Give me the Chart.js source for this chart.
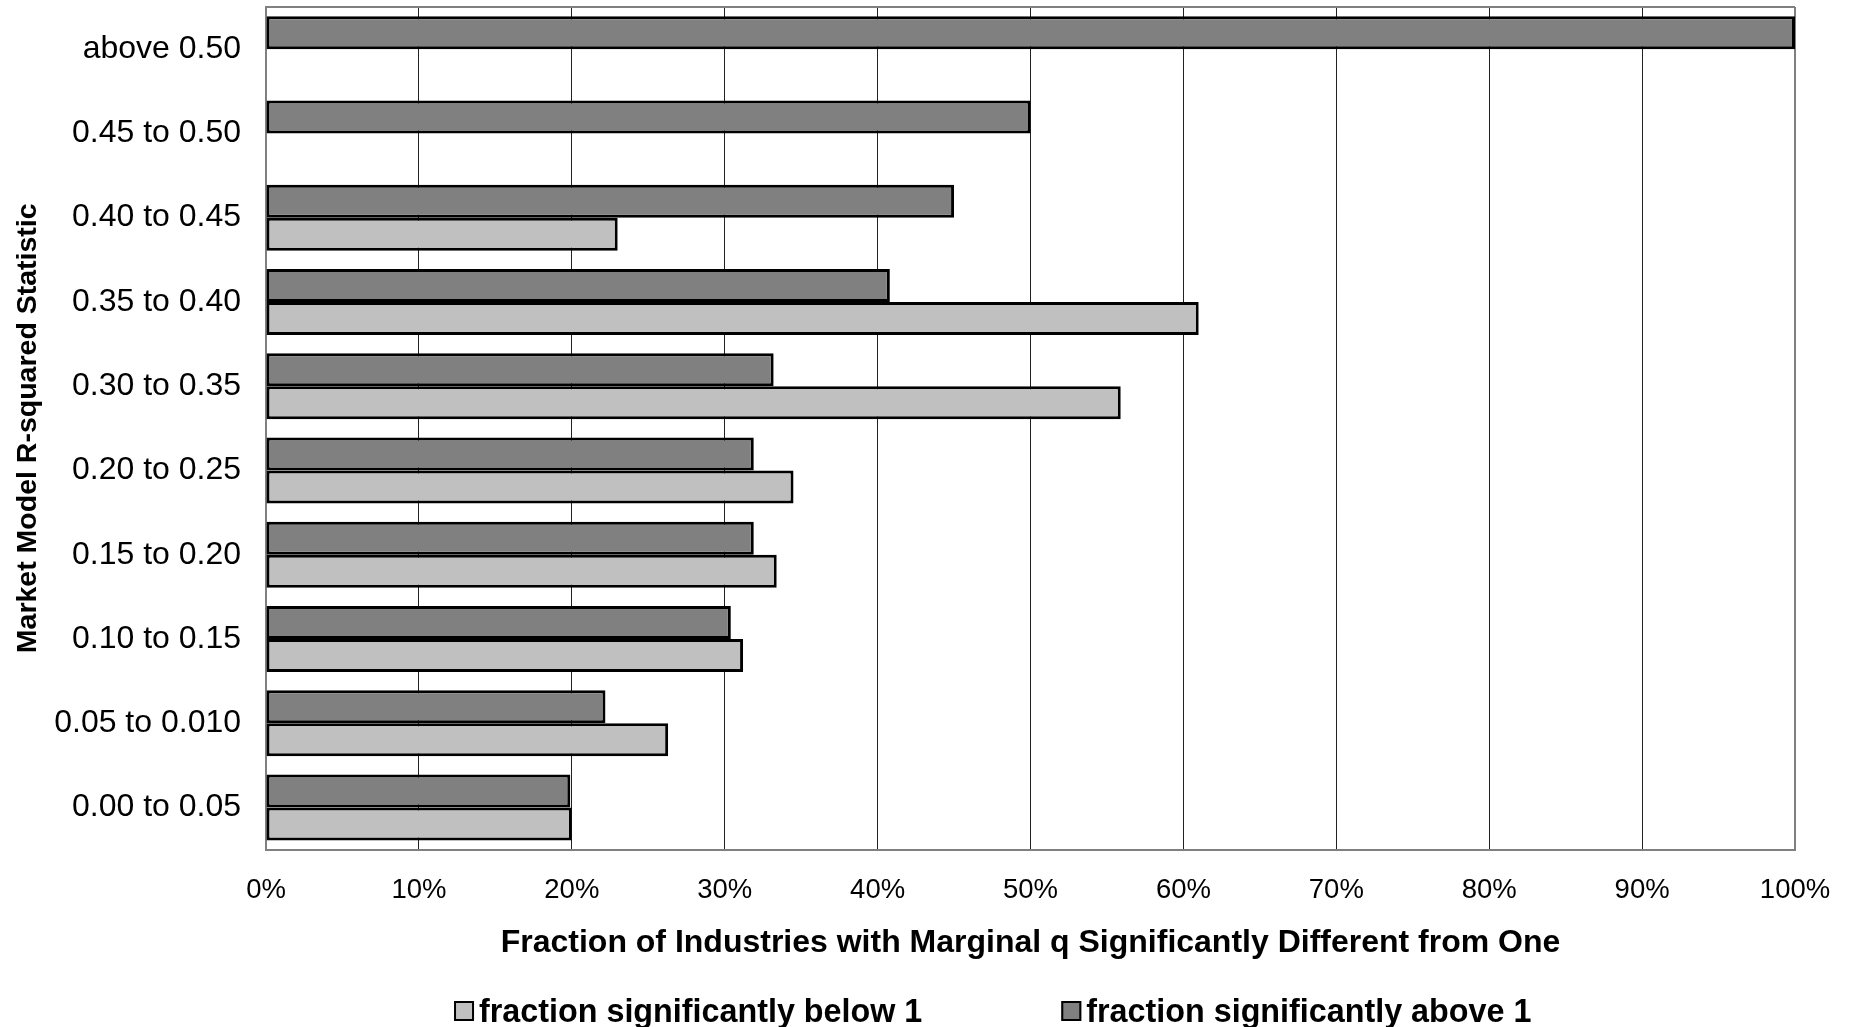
<!DOCTYPE html>
<html>
<head>
<meta charset="utf-8">
<title>Marginal q by R-squared</title>
<script src="https://cdn.jsdelivr.net/npm/chart.js@4.4.0/dist/chart.umd.min.js"></script>
<style>
  html, body { margin: 0; padding: 0; background: #fff; }
  #wrap { position: relative; width: 1852px; height: 1027px; }
</style>
</head>
<body>
<div id="wrap"><canvas id="chart"></canvas></div>
<script>
// === 1. data ===
const categories = [
  "above 0.50",
  "0.45 to 0.50",
  "0.40 to 0.45",
  "0.35 to 0.40",
  "0.30 to 0.35",
  "0.20 to 0.25",
  "0.15 to 0.20",
  "0.10 to 0.15",
  "0.05 to 0.010",
  "0.00 to 0.05",
];
// percent of industries
const aboveOne = [100, 50, 45.0, 40.8, 33.2, 31.9, 31.9, 30.4, 22.2, 19.9];
const belowOne = [null, null, 23.0, 61.0, 55.9, 34.5, 33.4, 31.2, 26.3, 20.0];

const xTicks = [0, 10, 20, 30, 40, 50, 60, 70, 80, 90, 100];

const seriesNames = ["fraction significantly above 1", "fraction significantly below 1"];
const legendOrder = [1, 0]; // legend shows "below" first

const FONT = "'Liberation Sans', Arial, sans-serif";
const FRAME = "#808080";

// === 2. legend drawn under the axis title ===
const bottomLegend = {
  id: "bottomLegend",
  afterDraw(chart) {
    const ctx = chart.ctx;
    const area = chart.chartArea;
    const box = 20, textGap = 5, itemGap = 139;
    let x = area.left + 188;
    const boxBottom = 1021;
    const textBase = 1022;
    ctx.save();
    ctx.font = "bold 32.3px " + FONT;
    ctx.textBaseline = "alphabetic";
    ctx.textAlign = "left";
    legendOrder.forEach((di) => {
      const ds = chart.data.datasets[di];
      ctx.fillStyle = ds.backgroundColor;
      ctx.fillRect(x, boxBottom - box, box, box);
      ctx.lineWidth = 2;
      ctx.strokeStyle = "#000";
      ctx.strokeRect(x + 1, boxBottom - box + 1, box - 2, box - 2);
      ctx.fillStyle = "#000";
      ctx.fillText(ds.label, x + box + textGap, textBase);
      x += box + textGap + ctx.measureText(ds.label).width + itemGap;
    });
    ctx.restore();
  },
};

// === 3. chart ===
const chart = new Chart(document.getElementById("chart"), {
  type: "bar",
  data: {
    labels: categories,
    datasets: [
      {
        label: seriesNames[0],
        data: aboveOne,
        backgroundColor: "#808080",
        borderColor: "#000",
        borderWidth: 3,
        borderSkipped: false,
      },
      {
        label: seriesNames[1],
        data: belowOne,
        backgroundColor: "#c0c0c0",
        borderColor: "#000",
        borderWidth: 3,
        borderSkipped: false,
      },
    ],
  },
  options: {
    indexAxis: "y",
    responsive: true,
    maintainAspectRatio: false,
    animation: false,
    categoryPercentage: 0.783,
    barPercentage: 1.0,
    layout: { padding: { left: 5, right: 57, top: 7, bottom: 60 } },
    plugins: {
      legend: { display: false },
      tooltip: { enabled: false },
    },
    scales: {
      x: {
        type: "linear",
        min: 0,
        max: 100,
        afterBuildTicks: (axis) => {
          axis.ticks = xTicks.map((v) => ({ value: v }));
        },
        ticks: {
          color: "#000",
          font: { family: FONT, size: 27.5 },
          padding: 0,
          callback: (v) => v + "%",
        },
        grid: {
          drawTicks: true,
          tickLength: 24,
          tickColor: "transparent",
          color: (c) => (c.index === xTicks.length - 1 ? FRAME : "#222"),
          lineWidth: (c) => (c.index === xTicks.length - 1 ? 2 : 1),
        },
        border: { color: FRAME, width: 2 },
        title: {
          display: true,
          text: "Fraction of Industries with Marginal q Significantly Different from One",
          color: "#000",
          font: { family: FONT, size: 32, weight: "bold" },
          padding: { top: 17, bottom: 5 },
        },
      },
      y: {
        ticks: {
          color: "#000",
          font: { family: FONT, size: 32, lineHeight: 0.4 },
          padding: 0,
        },
        grid: {
          drawTicks: true,
          tickLength: 25,
          tickColor: "transparent",
          color: (c) => (c.index === 0 ? FRAME : "transparent"),
          lineWidth: 2,
        },
        border: { color: FRAME, width: 2 },
        title: {
          display: true,
          text: "Market Model R-squared Statistic",
          color: "#000",
          font: { family: FONT, size: 28.5, weight: "bold" },
          padding: { top: 6, bottom: 9 },
        },
      },
    },
  },
  plugins: [bottomLegend],
});
</script>
</body>
</html>
